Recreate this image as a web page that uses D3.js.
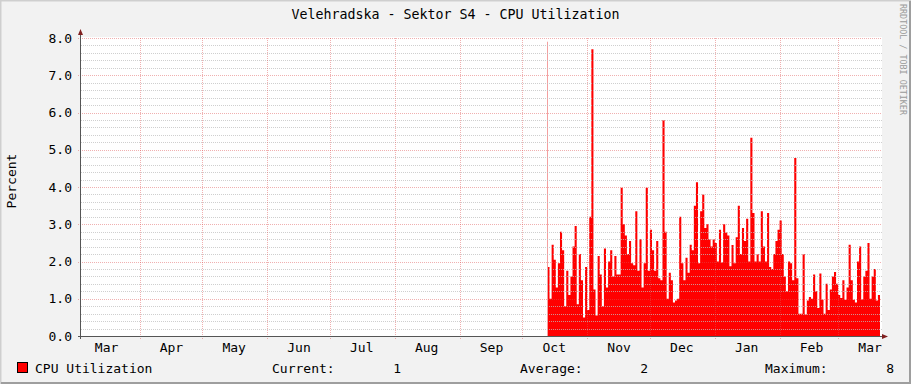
<!DOCTYPE html>
<html>
<head>
<meta charset="utf-8">
<script src="https://cdn.jsdelivr.net/npm/d3@7"></script>
<style>
  body { margin: 0; background: #f2f2f2; }
  svg { display: block; }
  text { font-family: "DejaVu Sans Mono", monospace; font-size: 13px; fill: #000; }
</style>
</head>
<body>
<div id="chart"></div>
<script>
const title = "Velehradska - Sektor S4 - CPU Utilization";
const yLabel = "Percent";
const watermark = "RRDTOOL / TOBI OETIKER";

const rangeStart = "2016-03-04";
const rangeEnd = "2017-03-21";
const dataStart = "2016-10-13";

// first sample is a thin spike right where collection started
const firstSample = 7.9;

// daily CPU utilization (%) from dataStart
const cpuValues = [
    1.85, 1.0, 2.45, 2.05, 1.3, 1.95, 2.8, 2.3, 0.8, 1.75,
    1.1, 1.6, 2.4, 2.95, 0.85, 2.2, 1.5, 0.5, 1.85, 0.7,
    3.2, 7.7, 1.25, 0.55, 2.15, 1.65, 0.8, 2.35, 1.3, 2.0,
    2.3, 1.6, 2.15, 1.65, 1.65, 3.98, 3.0, 2.7, 2.2, 2.55,
    1.95, 1.9, 3.35, 1.75, 2.6, 1.3, 1.95, 3.98, 1.75, 2.85,
    2.3, 1.75, 2.55, 1.55, 1.5, 5.8, 2.8, 1.0, 1.7, 1.5,
    0.9, 0.95, 1.0, 3.2, 1.95, 1.5, 2.1, 1.7, 2.45, 2.3,
    3.5, 4.13, 1.95, 3.35, 3.8, 2.9, 3.0, 2.6, 2.4, 2.6,
    2.5, 2.0, 2.85, 1.97, 3.0, 2.78, 2.7, 1.87, 2.44, 1.95,
    2.65, 3.5, 2.2, 2.9, 2.55, 3.15, 2.0, 5.32, 3.3, 2.0,
    2.2, 2.0, 3.35, 2.4, 2.0, 3.3, 1.85, 1.8, 2.2, 2.55,
    2.85, 3.1, 2.2, 1.6, 1.2, 2.0, 1.95, 1.5, 4.78, 1.55,
    0.6, 0.6, 2.2, 0.58, 0.95, 1.05, 1.0, 1.65, 1.2, 0.75,
    1.68, 0.97, 0.6, 1.4, 0.7, 1.25, 1.6, 1.72, 1.4, 1.1,
    1.02, 1.5, 0.97, 1.3, 2.45, 1.5, 0.97, 0.9, 2.0, 2.4,
    0.98, 1.6, 1.75, 2.5, 1.0, 1.6, 1.8, 0.95, 1.1
];

const yTicks = [0, 1, 2, 3, 4, 5, 6, 7, 8];
const yMinorStep = 0.2;
const monthLabels = ["Mar", "Apr", "May", "Jun", "Jul", "Aug", "Sep", "Oct", "Nov", "Dec", "Jan", "Feb", "Mar"];

const legendName = "CPU Utilization";
const legendStats = [
    { label: "Current:", value: "1" },
    { label: "Average:", value: "2" },
    { label: "Maximum:", value: "8" }
];

const width = 911, height = 384;
const plot = { left: 81, right: 880, top: 38, bottom: 336 };
const gridColor = "rgba(191,191,191,0.75)";
const majorColor = "rgba(222,79,79,0.45)";

const parse = d3.timeParse("%Y-%m-%d");
const start = parse(rangeStart);
const end = parse(rangeEnd);
const first = parse(dataStart);

const series = cpuValues.map((v, i) => ({ date: d3.timeDay.offset(first, i), value: v }));
series.push({ date: end, value: cpuValues[cpuValues.length - 1] });

const svg = d3.select("#chart").append("svg")
    .attr("width", width)
    .attr("height", height);

// background + 3d frame
svg.append("rect").attr("width", width).attr("height", height).attr("fill", "#f2f2f2");
svg.append("path").attr("d", `M0.5,${height} V0.5 H${width}`).attr("stroke", "#cfcfcf").attr("stroke-width", 2).attr("fill", "none");
svg.append("path").attr("d", `M1,${height - 1} H${width - 1} V1`).attr("stroke", "#9e9e9e").attr("stroke-width", 2).attr("fill", "none");

const x = d3.scaleTime()
    .domain([start, end])
    .range([plot.left, plot.right]);

const y = d3.scaleLinear()
    .domain([0, 8])
    .range([plot.bottom, plot.top]);

// canvas
svg.append("rect")
    .attr("x", plot.left).attr("y", plot.top - 1)
    .attr("width", plot.right - plot.left + 2).attr("height", plot.bottom - plot.top + 1)
    .attr("fill", "#fff");

// data
svg.append("path")
    .datum(series)
    .attr("fill", "#ff0000")
    .attr("d", d3.area()
        .curve(d3.curveStepAfter)
        .x(d => x(d.date))
        .y0(y(0))
        .y1(d => y(d.value)));

svg.append("line")
    .attr("x1", Math.round(x(first)) + 0.5).attr("x2", Math.round(x(first)) + 0.5)
    .attr("y1", y(0)).attr("y2", y(firstSample))
    .attr("stroke", "#f4a0a0").attr("stroke-width", 1);

// minor horizontal grid
const minorTicks = d3.range(yMinorStep, 8, yMinorStep).filter(v => Math.abs(v - Math.round(v)) > 0.01);
svg.append("g")
    .selectAll("line")
    .data(minorTicks)
    .join("line")
    .attr("x1", plot.left).attr("x2", plot.right + 2)
    .attr("y1", d => Math.round(y(d)) + 0.5).attr("y2", d => Math.round(y(d)) + 0.5)
    .attr("stroke", gridColor)
    .attr("stroke-dasharray", "1,1");

// major horizontal grid
svg.append("g")
    .selectAll("line")
    .data(yTicks.slice(1))
    .join("line")
    .attr("x1", plot.left - 3).attr("x2", plot.right + 2)
    .attr("y1", d => Math.round(y(d)) + 0.5).attr("y2", d => Math.round(y(d)) + 0.5)
    .attr("stroke", majorColor)
    .attr("stroke-dasharray", "1,1");

// month grid
const months = d3.timeMonth.range(d3.timeMonth.ceil(start), end);
svg.append("g")
    .selectAll("line")
    .data(months)
    .join("line")
    .attr("x1", d => Math.round(x(d)) + 0.5).attr("x2", d => Math.round(x(d)) + 0.5)
    .attr("y1", plot.top).attr("y2", plot.bottom + 3)
    .attr("stroke", majorColor)
    .attr("stroke-dasharray", "1,1");

// axes lines + arrows
svg.append("line")
    .attr("x1", plot.left - 3).attr("x2", plot.right + 3)
    .attr("y1", plot.bottom + 0.5).attr("y2", plot.bottom + 0.5)
    .attr("stroke", "#555");
svg.append("line")
    .attr("x1", plot.left - 0.5).attr("x2", plot.left - 0.5)
    .attr("y1", plot.top - 4).attr("y2", plot.bottom + 3)
    .attr("stroke", "#555");
svg.append("path")
    .attr("d", `M${plot.left - 3},${plot.top - 3} L${plot.left + 2},${plot.top - 3} L${plot.left - 0.5},${plot.top - 9} Z`)
    .attr("fill", "#801f1f");
svg.append("path")
    .attr("d", `M${plot.right + 2},${plot.bottom - 2} L${plot.right + 2},${plot.bottom + 3} L${plot.right + 8},${plot.bottom + 0.5} Z`)
    .attr("fill", "#801f1f");

// y labels
const yAxis = svg.append("g")
    .attr("transform", `translate(${plot.left},0)`)
    .call(d3.axisLeft(y).tickValues(yTicks).tickFormat(d3.format(".1f")).tickSize(0).tickPadding(9));
yAxis.select(".domain").remove();
yAxis.selectAll("text").attr("font-family", null).attr("font-size", null);

// x labels at mid month
const labelDates = d3.timeMonth.range(d3.timeMonth.floor(start), end).map(d => d3.timeDay.offset(d, 15));
const xAxis = svg.append("g")
    .attr("transform", `translate(0,${plot.bottom})`)
    .call(d3.axisBottom(x).tickValues(labelDates).tickFormat((d, i) => monthLabels[i]).tickSize(0).tickPadding(7));
xAxis.select(".domain").remove();
xAxis.selectAll("text").attr("font-family", null).attr("font-size", null);

// title, axis title, watermark
svg.append("text")
    .attr("x", width / 2).attr("y", 19)
    .attr("text-anchor", "middle")
    .style("font-size", "13.3px")
    .text(title);

svg.append("text")
    .attr("transform", "translate(15.5,181) rotate(-90)")
    .attr("text-anchor", "middle")
    .text(yLabel);

svg.append("text")
    .attr("transform", "translate(900,4) rotate(90)")
    .style("fill", "#9a9a9a")
    .style("font-size", "8.4px")
    .text(watermark);

// legend
svg.append("rect")
    .attr("x", 17.5).attr("y", 362.5)
    .attr("width", 10).attr("height", 10)
    .attr("fill", "#ff0000").attr("stroke", "#000");
svg.append("text").attr("x", 35).attr("y", 372.5).text(legendName);

const statX = [272, 520, 765];
const valueX = [401, 648, 894];
legendStats.forEach((s, i) => {
    svg.append("text").attr("x", statX[i]).attr("y", 372.5).text(s.label);
    svg.append("text").attr("x", valueX[i]).attr("y", 372.5).attr("text-anchor", "end").text(s.value);
});
</script>
</body>
</html>
